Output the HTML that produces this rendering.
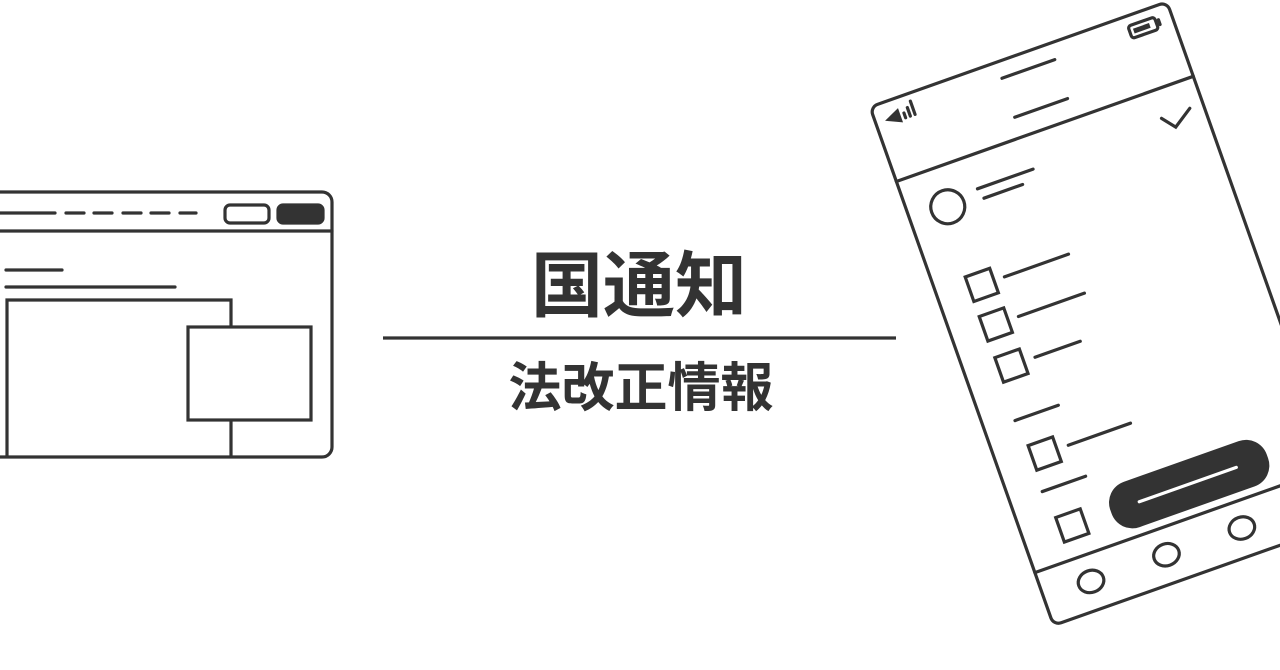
<!DOCTYPE html>
<html><head><meta charset="utf-8"><style>
html,body{margin:0;padding:0;background:#fff;width:1280px;height:670px;overflow:hidden}
svg{display:block}
text{font-family:"Liberation Sans","Noto Sans CJK JP",sans-serif;font-weight:bold;fill:#333}
</style></head><body>
<svg width="1280" height="670" viewBox="0 0 1280 670" xmlns="http://www.w3.org/2000/svg">
<g fill="none" stroke="#333" stroke-width="3.2" stroke-linecap="round">
 <!-- browser -->
 <rect x="-20" y="192" width="352" height="265" rx="10"/>
 <line x1="-5" y1="231" x2="332" y2="231"/>
 <line x1="0" y1="213" x2="55" y2="213"/>
 <line x1="66" y1="213" x2="84" y2="213"/>
 <line x1="94" y1="213" x2="112" y2="213"/>
 <line x1="123" y1="213" x2="141" y2="213"/>
 <line x1="151" y1="213" x2="169" y2="213"/>
 <line x1="180" y1="213" x2="196" y2="213"/>
 <rect x="225" y="205" width="44" height="18" rx="5"/>
 <rect x="278" y="205" width="45" height="18" rx="5" fill="#333"/>
 <line x1="6" y1="270" x2="62" y2="270"/>
 <line x1="6" y1="287" x2="175" y2="287"/>
 <polyline points="7,457 7,300 231,300 231,457" stroke-linecap="butt"/>
 <rect x="188" y="327" width="123" height="93" fill="#fff"/>
 <!-- center -->
 <line x1="383" y1="338" x2="896" y2="338" stroke-linecap="butt"/>
 <!-- phone -->
 <g transform="rotate(-19.5 870 107) translate(870 107)">
  <rect x="0" y="0" width="315" height="550" rx="8" fill="#fff"/>
  <line x1="0" y1="79" x2="315" y2="79"/>
  <line x1="0" y1="494" x2="315" y2="494"/>
  <path d="M12,18 L25,12 L25,24 Z" fill="#333" stroke-width="2"/>
  <line x1="30" y1="17" x2="30" y2="22"/>
  <line x1="35" y1="13" x2="35" y2="22"/>
  <line x1="40" y1="8" x2="40" y2="22"/>
  <rect x="270" y="10" width="28" height="13" rx="3"/>
  <rect x="274" y="14" width="17" height="5" fill="#333" stroke="none"/>
  <line x1="301" y1="14" x2="301" y2="19"/>
  <line x1="134" y1="17" x2="190" y2="17"/>
  <line x1="133" y1="58" x2="189" y2="58"/>
  <polyline points="271,108 281.5,121 301,108"/>
  <circle cx="40" cy="120" r="17"/>
  <line x1="74" y1="113" x2="133" y2="113"/>
  <line x1="77" y1="124" x2="118" y2="124"/>
  <rect x="33" y="192" width="26" height="26"/>
  <line x1="70" y1="205" x2="138" y2="205"/>
  <rect x="33" y="234" width="26" height="26"/>
  <line x1="70" y1="247" x2="140" y2="247"/>
  <rect x="34" y="278" width="26" height="26"/>
  <line x1="72" y1="291" x2="120" y2="291"/>
  <line x1="32" y1="344" x2="78" y2="344"/>
  <rect x="36" y="372" width="26" height="26"/>
  <line x1="74" y1="385" x2="140" y2="385"/>
  <line x1="34" y1="420" x2="80" y2="420"/>
  <rect x="38" y="449" width="26" height="26"/>
  <rect x="92" y="438" width="166" height="48" rx="22" fill="#333" stroke="none"/>
  <line x1="122" y1="462" x2="225" y2="462" stroke="#fff"/>
  <ellipse cx="50" cy="521" rx="13" ry="11"/>
  <ellipse cx="130" cy="521" rx="13" ry="11"/>
  <ellipse cx="210" cy="521" rx="13" ry="11"/>
 </g>
</g>
<text x="639" y="311" font-size="72" text-anchor="middle">国通知</text>
<text x="641" y="406" font-size="53" text-anchor="middle">法改正情報</text>
</svg>
</body></html>
